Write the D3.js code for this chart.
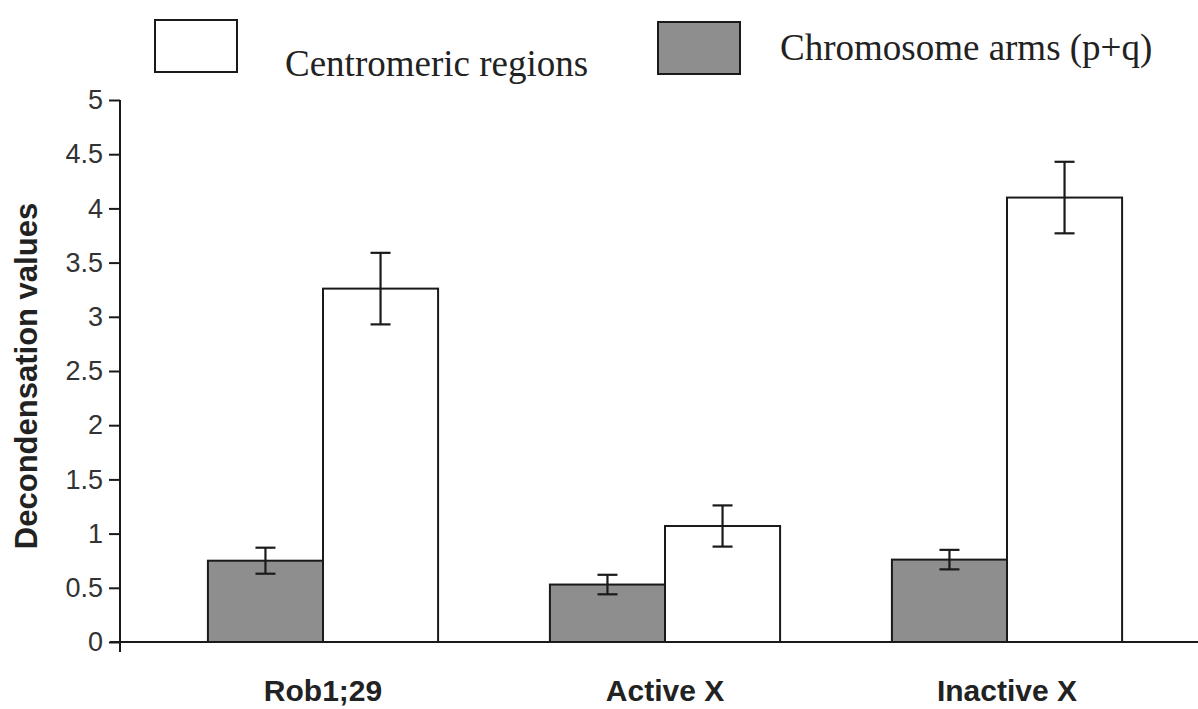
<!DOCTYPE html>
<html>
<head>
<meta charset="utf-8">
<script src="https://cdn.jsdelivr.net/npm/d3@7"></script>
<style>
  body { margin: 0; background: #fff; }
  .tick text { font-family: Arial, "Liberation Sans", sans-serif; fill: #333; }
  .catLabel { font-family: Arial, "Liberation Sans", sans-serif; font-weight: bold; fill: #222; }
  .legendText { font-family: "Times New Roman", "Liberation Serif", serif; fill: #222; }
</style>
</head>
<body>
<svg id="chart"></svg>
<script>
// data
const categories = ['Rob1;29', 'Active X', 'Inactive X'];
const seriesNames = ['Chromosome arms (p+q)', 'Centromeric regions'];
const armsValues = [0.75, 0.53, 0.76];
const armsErrors = [0.12, 0.09, 0.09];
const centroValues = [3.26, 1.07, 4.10];
const centroErrors = [0.33, 0.19, 0.33];
const yTicks = [0, 0.5, 1, 1.5, 2, 2.5, 3, 3.5, 4, 4.5, 5];

const svg = d3.select('#chart').attr('width', 1198).attr('height', 709);

const x0 = d3.scaleBand().domain(categories).range([152, 1178])
    .paddingInner(0.327).paddingOuter(0.1635);
const x1 = d3.scaleBand().domain(seriesNames).range([0, x0.bandwidth()]);
const y = d3.scaleLinear().domain([0, 5]).range([642, 100]);

const fills = {'Chromosome arms (p+q)': '#8e8e8e', 'Centromeric regions': '#ffffff'};

let rows = [];
categories.forEach((c, i) => {
    rows.push({cat: c, series: seriesNames[0], value: armsValues[i], err: armsErrors[i]});
    rows.push({cat: c, series: seriesNames[1], value: centroValues[i], err: centroErrors[i]});
});

// bars
svg.append('g').selectAll('rect')
    .data(rows)
    .join('rect')
    .attr('x', d => x0(d.cat) + x1(d.series))
    .attr('y', d => y(d.value))
    .attr('width', x1.bandwidth())
    .attr('height', d => y(0) - y(d.value))
    .attr('fill', d => fills[d.series])
    .attr('stroke', '#1a1a1a')
    .attr('stroke-width', 2);

// error bars
let eb = svg.append('g').attr('stroke', '#1a1a1a').attr('stroke-width', 2.2);
rows.forEach(d => {
    let cx = x0(d.cat) + x1(d.series) + x1.bandwidth() / 2;
    eb.append('line').attr('x1', cx).attr('x2', cx)
        .attr('y1', y(d.value + d.err)).attr('y2', y(d.value - d.err));
    [d.value + d.err, d.value - d.err].forEach(v => {
        eb.append('line').attr('x1', cx - 10).attr('x2', cx + 10)
            .attr('y1', y(v)).attr('y2', y(v));
    });
});

// y axis
const yAxis = svg.append('g')
    .attr('transform', 'translate(120,0)')
    .call(d3.axisLeft(y).tickValues(yTicks).tickSize(11).tickPadding(6).tickFormat(d3.format('')));
yAxis.select('.domain').remove();
yAxis.selectAll('.tick line').attr('stroke', '#1a1a1a').attr('stroke-width', 2);
yAxis.selectAll('.tick text').style('font-size', '27px');
svg.append('line').attr('x1', 120).attr('x2', 120).attr('y1', y(5)).attr('y2', y(0) + 10)
    .attr('stroke', '#1a1a1a').attr('stroke-width', 2);

// x axis line
svg.append('line').attr('x1', 110).attr('x2', 1198).attr('y1', y(0)).attr('y2', y(0))
    .attr('stroke', '#1a1a1a').attr('stroke-width', 2.2);

// category labels
svg.append('g').selectAll('text')
    .data(categories)
    .join('text')
    .attr('class', 'catLabel')
    .attr('x', d => x0(d) + x0.bandwidth() / 2)
    .attr('y', 701)
    .attr('text-anchor', 'middle')
    .style('font-size', '30px')
    .text(d => d);

// y title
svg.append('text')
    .attr('class', 'catLabel')
    .attr('transform', 'translate(37,376) rotate(-90)')
    .attr('text-anchor', 'middle')
    .style('font-size', '31px')
    .text('Decondensation values');

// legend
const legendItems = [
    {name: 'Centromeric regions', bx: 155, by: 20, ty: 76, tx: 285},
    {name: 'Chromosome arms (p+q)', bx: 658, by: 22, ty: 60, tx: 780}
];
let lg = svg.append('g');
lg.selectAll('rect')
    .data(legendItems)
    .join('rect')
    .attr('x', d => d.bx)
    .attr('y', d => d.by)
    .attr('width', 82)
    .attr('height', 52)
    .attr('fill', d => fills[d.name])
    .attr('stroke', '#1a1a1a')
    .attr('stroke-width', 2);
lg.selectAll('text')
    .data(legendItems)
    .join('text')
    .attr('class', 'legendText')
    .attr('x', d => d.tx)
    .attr('y', d => d.ty)
    .style('font-size', '37px')
    .text(d => d.name);
</script>
</body>
</html>
